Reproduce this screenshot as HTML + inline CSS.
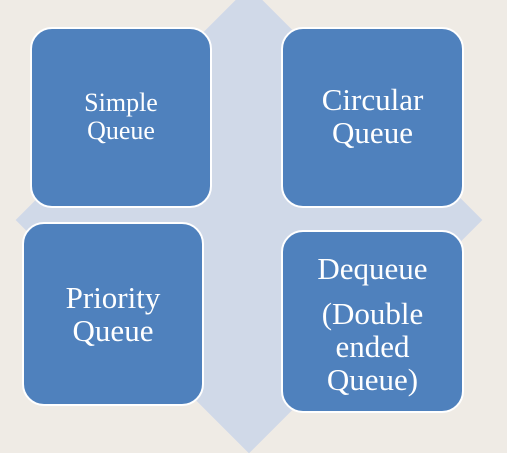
<!DOCTYPE html>
<html><head><style>
body{margin:0;width:507px;height:446px;background:#efebe5;position:relative;overflow:hidden;font-family:"Liberation Serif",serif}
.d{position:absolute;left:84px;top:55px;width:330px;height:330px;background:#d0d9e8;transform:rotate(45deg)}
.b{position:absolute;background:#4f81bd;border:2px solid #fff;border-radius:22px;box-sizing:border-box;color:#fff;text-align:center}
.t{position:absolute;left:0;right:0}
</style></head><body>
<div class="d"></div>
<div class="b" style="left:30px;top:27px;width:182px;height:181px">
<div class="t" style="top:60px;font-size:26px;line-height:28px">Simple<br>Queue</div></div>
<div class="b" style="left:281px;top:27px;width:183px;height:181px">
<div class="t" style="top:54px;font-size:31px;line-height:33px">Circular<br>Queue</div></div>
<div class="b" style="left:22px;top:222px;width:182px;height:184px">
<div class="t" style="top:57px;font-size:31px;line-height:33px">Priority<br>Queue</div></div>
<div class="b" style="left:281px;top:230px;width:183px;height:183px">
<div class="t" style="top:20px;font-size:31px;line-height:33px">Dequeue<br><span style="display:block;margin-top:12px">(Double<br>ended<br>Queue)</span></div></div>
</body></html>
